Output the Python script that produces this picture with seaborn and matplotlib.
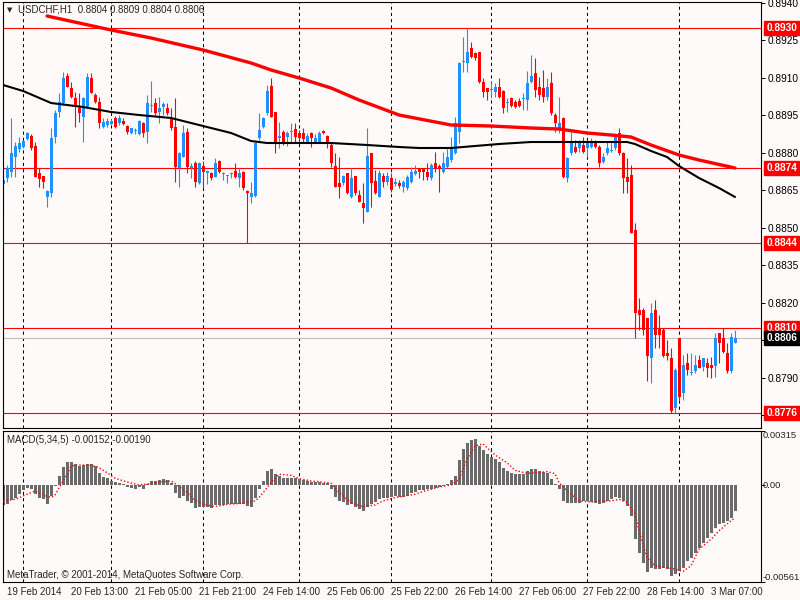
import numpy as np
import pandas as pd
import seaborn as sns
import matplotlib
matplotlib.use('Agg')
import matplotlib.pyplot as plt
import matplotlib.transforms as mtrans

sns.set_style('white')
plt.rcParams['font.family'] = ['Liberation Sans', 'DejaVu Sans']

BG = '#fffafa'
BULL = '#1e90ff'
BEAR = '#ff0000'

# ---------------------------------------------------------------
# USDCHF H1 candles
opens = [
    0.88676, 0.88700, 0.88724, 0.88784, 0.88816, 0.88824, 0.88856, 0.88868, 0.88828, 0.88720,
    0.88708, 0.88624, 0.88640, 0.88864, 0.88964, 0.89000, 0.89108, 0.89060, 0.89020, 0.88980,
    0.88944, 0.88984, 0.89100, 0.89032, 0.89004, 0.88904, 0.88912, 0.88916, 0.88940, 0.88920,
    0.88928, 0.88908, 0.88880, 0.88888, 0.88876, 0.88920, 0.88884, 0.88988, 0.89000, 0.88964,
    0.88984, 0.88980, 0.88940, 0.88904, 0.88740, 0.88784, 0.88884, 0.88740, 0.88760, 0.88680,
    0.88748, 0.88720, 0.88720, 0.88704, 0.88768, 0.88716, 0.88708, 0.88716, 0.88728, 0.88700,
    0.88724, 0.88648, 0.88624, 0.88628, 0.88860, 0.88904, 0.88960, 0.89068, 0.88964, 0.88860,
    0.88884, 0.88864, 0.88884, 0.88896, 0.88880, 0.88880, 0.88844, 0.88880, 0.88844, 0.88844,
    0.88888, 0.88868, 0.88832, 0.88748, 0.88680, 0.88680, 0.88720, 0.88624, 0.88708, 0.88632,
    0.88600, 0.88564, 0.88800, 0.88688, 0.88624, 0.88708, 0.88684, 0.88700, 0.88676, 0.88680,
    0.88664, 0.88660, 0.88684, 0.88716, 0.88740, 0.88740, 0.88724, 0.88700, 0.88760, 0.88748,
    0.88724, 0.88744, 0.88772, 0.88800, 0.88884, 0.89164, 0.89160, 0.89220, 0.89200, 0.89204,
    0.89084, 0.89060, 0.89052, 0.89044, 0.89064, 0.89048, 0.89000, 0.89020, 0.89004, 0.89008,
    0.89016, 0.89012, 0.89084, 0.89120, 0.89064, 0.89060, 0.89024, 0.89080, 0.88952, 0.88892,
    0.88940, 0.88700, 0.88800, 0.88824, 0.88820, 0.88832, 0.88820, 0.88824, 0.88844, 0.88824,
    0.88764, 0.88800, 0.88808, 0.88820, 0.88880, 0.88800, 0.88704, 0.88712, 0.88492, 0.88172,
    0.88172, 0.88140, 0.87980, 0.88172, 0.88100, 0.88092, 0.88000, 0.87980, 0.87780, 0.88060,
    0.87840, 0.87960, 0.87920, 0.87928, 0.87972, 0.87944, 0.87960, 0.87952, 0.87948, 0.88080,
    0.88060, 0.88000, 0.87928, 0.88040,
]
highs = [
    0.88724, 0.88752, 0.88940, 0.88844, 0.88864, 0.88852, 0.88884, 0.88876, 0.88844, 0.88740,
    0.88708, 0.88652, 0.88900, 0.88972, 0.89040, 0.89124, 0.89120, 0.89084, 0.89044, 0.89040,
    0.89024, 0.89120, 0.89120, 0.89040, 0.89024, 0.88940, 0.88940, 0.88936, 0.88948, 0.88952,
    0.88940, 0.88912, 0.88900, 0.88900, 0.88932, 0.88924, 0.89032, 0.89088, 0.89020, 0.89024,
    0.89004, 0.89000, 0.88980, 0.89020, 0.88804, 0.88912, 0.88900, 0.88760, 0.88768, 0.88764,
    0.88768, 0.88732, 0.88724, 0.88780, 0.88772, 0.88724, 0.88712, 0.88724, 0.88760, 0.88740,
    0.88728, 0.88652, 0.88684, 0.88844, 0.88960, 0.88944, 0.89072, 0.89100, 0.88964, 0.88924,
    0.88892, 0.88888, 0.88920, 0.88920, 0.88892, 0.88900, 0.88880, 0.88884, 0.88876, 0.88888,
    0.88892, 0.88872, 0.88840, 0.88800, 0.88784, 0.88712, 0.88720, 0.88740, 0.88708, 0.88652,
    0.88680, 0.88900, 0.88800, 0.88732, 0.88732, 0.88720, 0.88724, 0.88720, 0.88700, 0.88692,
    0.88692, 0.88712, 0.88744, 0.88752, 0.88740, 0.88740, 0.88760, 0.88760, 0.88804, 0.88756,
    0.88804, 0.88824, 0.88864, 0.88944, 0.89164, 0.89264, 0.89300, 0.89244, 0.89204, 0.89204,
    0.89100, 0.89060, 0.89084, 0.89080, 0.89100, 0.89052, 0.89020, 0.89024, 0.89012, 0.89020,
    0.89040, 0.89128, 0.89192, 0.89180, 0.89104, 0.89132, 0.89100, 0.89124, 0.88960, 0.89024,
    0.88944, 0.88784, 0.88884, 0.88852, 0.88852, 0.88864, 0.88852, 0.88860, 0.88852, 0.88832,
    0.88800, 0.88844, 0.88844, 0.88880, 0.88900, 0.88804, 0.88780, 0.88752, 0.88520, 0.88220,
    0.88180, 0.88140, 0.88200, 0.88212, 0.88152, 0.88100, 0.88052, 0.88020, 0.87940, 0.88060,
    0.87992, 0.88000, 0.88000, 0.87992, 0.87992, 0.87980, 0.87980, 0.87984, 0.88080, 0.88080,
    0.88100, 0.88040, 0.88080, 0.88090,
]
lows = [
    0.88552, 0.88684, 0.88704, 0.88704, 0.88804, 0.88820, 0.88852, 0.88812, 0.88704, 0.88664,
    0.88660, 0.88584, 0.88624, 0.88840, 0.88944, 0.88992, 0.89064, 0.89020, 0.88904, 0.88924,
    0.88844, 0.88980, 0.89040, 0.89000, 0.88900, 0.88900, 0.88904, 0.88912, 0.88900, 0.88912,
    0.88912, 0.88876, 0.88876, 0.88876, 0.88872, 0.88864, 0.88840, 0.88964, 0.88952, 0.88920,
    0.88952, 0.88952, 0.88892, 0.88684, 0.88664, 0.88784, 0.88720, 0.88700, 0.88664, 0.88676,
    0.88660, 0.88676, 0.88692, 0.88704, 0.88720, 0.88692, 0.88680, 0.88700, 0.88700, 0.88664,
    0.88652, 0.88440, 0.88600, 0.88624, 0.88852, 0.88900, 0.88952, 0.88944, 0.88800, 0.88820,
    0.88832, 0.88828, 0.88844, 0.88844, 0.88844, 0.88844, 0.88840, 0.88824, 0.88840, 0.88840,
    0.88876, 0.88820, 0.88744, 0.88664, 0.88620, 0.88672, 0.88636, 0.88620, 0.88632, 0.88604,
    0.88520, 0.88564, 0.88584, 0.88636, 0.88624, 0.88664, 0.88672, 0.88644, 0.88668, 0.88660,
    0.88644, 0.88652, 0.88680, 0.88712, 0.88700, 0.88692, 0.88692, 0.88692, 0.88724, 0.88644,
    0.88720, 0.88740, 0.88764, 0.88796, 0.88840, 0.89124, 0.89124, 0.89180, 0.89172, 0.89080,
    0.89024, 0.89012, 0.89020, 0.89024, 0.89020, 0.88960, 0.88964, 0.88984, 0.88980, 0.88984,
    0.88972, 0.88972, 0.89080, 0.89024, 0.89012, 0.89004, 0.89012, 0.88952, 0.88884, 0.88880,
    0.88700, 0.88684, 0.88792, 0.88800, 0.88804, 0.88800, 0.88784, 0.88820, 0.88820, 0.88744,
    0.88760, 0.88792, 0.88804, 0.88812, 0.88792, 0.88640, 0.88640, 0.88480, 0.88060, 0.88092,
    0.88072, 0.87888, 0.87880, 0.88020, 0.88020, 0.87984, 0.87972, 0.87760, 0.87760, 0.87812,
    0.87812, 0.87912, 0.87912, 0.87920, 0.87940, 0.87928, 0.87904, 0.87900, 0.87904, 0.87960,
    0.88000, 0.87920, 0.87920, 0.88040,
]
closes = [
    0.88692, 0.88740, 0.88800, 0.88828, 0.88840, 0.88848, 0.88880, 0.88820, 0.88704, 0.88696,
    0.88684, 0.88648, 0.88860, 0.88960, 0.89004, 0.89100, 0.89064, 0.89024, 0.88984, 0.88960,
    0.89020, 0.89104, 0.89040, 0.89004, 0.88920, 0.88924, 0.88928, 0.88928, 0.88904, 0.88940,
    0.88916, 0.88884, 0.88900, 0.88892, 0.88928, 0.88880, 0.89000, 0.88992, 0.88960, 0.88980,
    0.88996, 0.88960, 0.88900, 0.88744, 0.88800, 0.88880, 0.88744, 0.88748, 0.88684, 0.88760,
    0.88724, 0.88728, 0.88700, 0.88760, 0.88724, 0.88720, 0.88712, 0.88720, 0.88704, 0.88720,
    0.88660, 0.88640, 0.88640, 0.88840, 0.88892, 0.88940, 0.89048, 0.88944, 0.88840, 0.88868,
    0.88844, 0.88880, 0.88888, 0.88864, 0.88860, 0.88856, 0.88868, 0.88860, 0.88860, 0.88880,
    0.88880, 0.88840, 0.88760, 0.88664, 0.88664, 0.88708, 0.88640, 0.88700, 0.88640, 0.88604,
    0.88580, 0.88788, 0.88680, 0.88640, 0.88720, 0.88684, 0.88708, 0.88652, 0.88684, 0.88668,
    0.88684, 0.88704, 0.88724, 0.88728, 0.88724, 0.88724, 0.88704, 0.88752, 0.88740, 0.88740,
    0.88760, 0.88784, 0.88824, 0.88920, 0.89160, 0.89168, 0.89204, 0.89184, 0.89180, 0.89084,
    0.89044, 0.89044, 0.89056, 0.89064, 0.89024, 0.88980, 0.89004, 0.88988, 0.88984, 0.88988,
    0.89020, 0.89080, 0.89108, 0.89052, 0.89032, 0.89024, 0.89064, 0.88960, 0.88920, 0.88920,
    0.88704, 0.88780, 0.88844, 0.88804, 0.88840, 0.88804, 0.88844, 0.88840, 0.88824, 0.88760,
    0.88784, 0.88820, 0.88812, 0.88864, 0.88800, 0.88700, 0.88684, 0.88480, 0.88160, 0.88152,
    0.88092, 0.87988, 0.88160, 0.88072, 0.88072, 0.87988, 0.87988, 0.87768, 0.87932, 0.87824,
    0.87952, 0.87932, 0.87924, 0.87952, 0.87940, 0.87980, 0.87940, 0.87940, 0.88060, 0.88040,
    0.88004, 0.87928, 0.88064, 0.88060,
]

# moving averages (sampled along the drawn lines)
ma_slow_idx = [11, 19, 27, 37, 50, 62, 67, 74, 82, 89, 99, 112, 122, 132, 139, 146, 152, 157, 162, 169, 174, 183]
ma_slow = [0.89348, 0.89320, 0.89292, 0.89260, 0.89212, 0.89160, 0.89132, 0.89100, 0.89060, 0.89012, 0.88952,
           0.88912, 0.88908, 0.88900, 0.88896, 0.88880, 0.88872, 0.88864, 0.88832, 0.88792, 0.88772, 0.88740]
ma_fast_idx = [0, 5, 12, 20, 27, 34, 42, 50, 57, 62, 66, 74, 82, 91, 99, 104, 112, 118, 124, 132, 138, 149,
               156, 158, 162, 166, 169, 174, 179, 183]
ma_fast = [0.89072, 0.89048, 0.89000, 0.88984, 0.88964, 0.88952, 0.88940, 0.88908, 0.88880, 0.88848, 0.88840,
           0.88840, 0.88840, 0.88832, 0.88824, 0.88820, 0.88820, 0.88828, 0.88836, 0.88844, 0.88844, 0.88844,
           0.88844, 0.88836, 0.88808, 0.88784, 0.88748, 0.88700, 0.88660, 0.88624]

# MACD(5,34,5) histogram and signal
macd = [
    -0.00116, -0.00110, -0.00087, -0.00071, -0.00048, -0.00029, -0.00014, -0.00023, -0.00048, -0.00071,
    -0.00081, -0.00106, -0.00062, -0.00004, 0.00054, 0.00106, 0.00135, 0.00135, 0.00122, 0.00112,
    0.00116, 0.00125, 0.00122, 0.00112, 0.00073, 0.00048, 0.00041, 0.00025, 0.00019, 0.00015,
    0.00010, -0.00010, -0.00014, -0.00019, -0.00010, -0.00019, 0.00010, 0.00025, 0.00025, 0.00031,
    0.00035, 0.00029, 0.00015, -0.00046, -0.00071, -0.00062, -0.00091, -0.00100, -0.00129, -0.00125,
    -0.00125, -0.00125, -0.00129, -0.00116, -0.00116, -0.00114, -0.00110, -0.00110, -0.00110, -0.00106,
    -0.00110, -0.00120, -0.00124, -0.00075, -0.00023, 0.00025, 0.00083, 0.00093, 0.00068, 0.00054,
    0.00044, 0.00041, 0.00041, 0.00041, 0.00035, 0.00029, 0.00025, 0.00021, 0.00019, 0.00019,
    0.00015, 0.00015, -0.00023, -0.00068, -0.00091, -0.00097, -0.00116, -0.00110, -0.00125, -0.00139,
    -0.00149, -0.00125, -0.00106, -0.00097, -0.00081, -0.00071, -0.00071, -0.00068, -0.00062, -0.00068,
    -0.00068, -0.00062, -0.00042, -0.00037, -0.00029, -0.00027, -0.00023, -0.00019, -0.00014, -0.00010,
    -0.00004, 0.00010, 0.00029, 0.00054, 0.00145, 0.00208, 0.00243, 0.00261, 0.00266, 0.00228,
    0.00203, 0.00179, 0.00164, 0.00154, 0.00137, 0.00098, 0.00083, 0.00073, 0.00068, 0.00064,
    0.00064, 0.00083, 0.00093, 0.00093, 0.00083, 0.00079, 0.00069, 0.00035, 0.00006, -0.00019,
    -0.00091, -0.00100, -0.00104, -0.00100, -0.00100, -0.00091, -0.00091, -0.00095, -0.00100, -0.00106,
    -0.00100, -0.00091, -0.00081, -0.00068, -0.00071, -0.00091, -0.00120, -0.00178, -0.00313, -0.00390,
    -0.00448, -0.00502, -0.00477, -0.00483, -0.00483, -0.00477, -0.00486, -0.00529, -0.00515, -0.00500,
    -0.00477, -0.00442, -0.00419, -0.00390, -0.00361, -0.00332, -0.00303, -0.00274, -0.00249, -0.00222,
    -0.00216, -0.00207, -0.00191, -0.00152,
]
signal_idx = [0, 3, 5, 8, 10, 12, 13, 14, 16, 17, 19, 22, 24, 26, 28, 31, 34, 37, 39, 42, 43, 46, 48, 50,
              53, 56, 59, 63, 64, 66, 68, 69, 72, 74, 77, 79, 82, 84, 87, 90, 93, 95, 98, 99, 103, 106,
              109, 112, 114, 116, 118, 120, 121, 123, 126, 128, 131, 133, 136, 138, 139, 142, 144, 147,
              149, 152, 154, 156, 158, 159, 161, 163, 166, 168, 170, 172, 174, 177, 179, 182, 183]
signal = [-0.00091, -0.00081, -0.00062, -0.00033, -0.00056, -0.00071, -0.00056, -0.00014, 0.00064, 0.00112,
          0.00118, 0.00116, 0.00102, 0.00073, 0.00041, 0.00019, 0.00002, 0.00010, 0.00019, 0.00025, 0.00010,
          -0.00042, -0.00087, -0.00110, -0.00124, -0.00110, -0.00106, -0.00091, -0.00071, -0.00014, 0.00044,
          0.00064, 0.00058, 0.00039, 0.00025, 0.00021, 0.00012, -0.00042, -0.00100, -0.00125, -0.00114,
          -0.00091, -0.00071, -0.00068, -0.00052, -0.00029, -0.00010, 0.00002, 0.00035, 0.00151, 0.00228,
          0.00241, 0.00218, 0.00176, 0.00131, 0.00087, 0.00069, 0.00073, 0.00079, 0.00068, 0.00015,
          -0.00052, -0.00091, -0.00097, -0.00091, -0.00091, -0.00081, -0.00100, -0.00168, -0.00264,
          -0.00419, -0.00467, -0.00477, -0.00486, -0.00500, -0.00467, -0.00371, -0.00313, -0.00264,
          -0.00205, -0.00190]

levels = [0.8930, 0.8874, 0.8844, 0.8810, 0.8776]
bid = 0.8806
price_ticks = [0.8940, 0.8925, 0.8910, 0.8895, 0.8880, 0.8865, 0.8850, 0.8835, 0.8820, 0.8805, 0.8790, 0.8775]
hidden_ticks = [0.8805, 0.8775]   # covered by the level boxes
macd_ticks = [0.00315, 0.0, -0.00561]
macd_tick_labels = ['0.00315', '0.00', '-0.00561']
day_lines = [5, 27, 50, 74, 97, 122, 146, 169]
date_pos = [0, 16, 32, 48, 64, 80, 96, 112, 128, 144, 160, 176]
date_labels = ['19 Feb 2014', '20 Feb 13:00', '21 Feb 05:00', '21 Feb 21:00', '24 Feb 14:00', '25 Feb 06:00',
               '25 Feb 22:00', '26 Feb 14:00', '27 Feb 06:00', '27 Feb 22:00', '28 Feb 14:00', '3 Mar 07:00']

# ---------------------------------------------------------------
df = pd.DataFrame({'open': opens, 'high': highs, 'low': lows, 'close': closes})
df['x'] = np.arange(len(df))
df['col'] = np.where(df['close'] >= df['open'], BULL, BEAR)
body = np.maximum((df['close'] - df['open']).abs(), 0.00004)
bottom = np.minimum(df['open'], df['close'])

fig = plt.figure(figsize=(8, 6), dpi=100, facecolor=BG)
ax = fig.add_axes([2.7 / 800, 1 - 428 / 600, 758.3 / 800, 426 / 600])
axm = fig.add_axes([2.7 / 800, 1 - 582 / 600, 758.3 / 800, 151 / 600])

for a in (ax, axm):
    a.set_facecolor(BG)
    a.set_xlim(-0.1, 189.5)
    for s in a.spines.values():
        s.set_color('black')
        s.set_linewidth(0.8)
    for d in day_lines:
        a.axvline(d, color='black', lw=0.75, ls=(0, (3, 3)), zorder=1)

# main price panel
for lvl in levels:
    ax.axhline(lvl, color='red', lw=0.8, zorder=1.5)
ax.axhline(bid, color='#c0c0c0', lw=0.8, zorder=1.5)

ax.vlines(df['x'], df['low'], df['high'], colors=df['col'], lw=0.8, zorder=2)
ax.bar(df['x'], body, bottom=bottom, width=0.75, color=df['col'], lw=0, zorder=2.1)

sns.lineplot(x=ma_slow_idx, y=ma_slow, ax=ax, color='red', lw=2.4, estimator=None, zorder=3)
sns.lineplot(x=ma_fast_idx, y=ma_fast, ax=ax, color='black', lw=1.5, estimator=None, zorder=3)

ax.set_ylim(0.87700, 0.89404)
ax.set_xticks([])
ax.yaxis.tick_right()
ax.set_yticks(price_ticks)
ax.set_yticklabels(['' if t in hidden_ticks else '%.4f' % t for t in price_ticks], fontsize=7.3)
ax.tick_params(axis='y', direction='out', length=3, width=0.7, pad=2, colors='black')
ax.set_xlabel('')
ax.set_ylabel('')

trans = mtrans.blended_transform_factory(ax.transAxes, ax.transData)
for lvl in levels:
    ax.text(1.007, lvl, '%.4f' % lvl, transform=trans, color='white', fontsize=7.3, fontweight='bold',
            ha='left', va='center', bbox=dict(boxstyle='square,pad=0.22', fc='red', ec='red'),
            zorder=10, clip_on=False)
ax.text(1.007, bid, '%.4f' % bid, transform=trans, color='white', fontsize=7.3, fontweight='bold',
        ha='left', va='center', bbox=dict(boxstyle='square,pad=0.22', fc='black', ec='black'),
        zorder=10, clip_on=False)

# MACD panel
axm.bar(df['x'], macd, width=0.75, color='#6a6a6a', lw=0, zorder=2)
sns.lineplot(x=signal_idx, y=signal, ax=axm, color='red', lw=1.0, linestyle=(0, (1, 1.5)),
             estimator=None, zorder=3)
axm.set_ylim(-0.00561, 0.00315)
axm.yaxis.tick_right()
axm.set_yticks(macd_ticks)
axm.set_yticklabels([])
axm.tick_params(axis='y', direction='out', length=3, width=0.7, colors='black')
axm.set_xticks(date_pos)
axm.set_xticklabels([])
axm.tick_params(axis='x', direction='out', length=4, width=0.7, colors='black')
axm.set_xlabel('')
axm.set_ylabel('')

ytr = mtrans.blended_transform_factory(axm.transAxes, axm.transData)
vas = ['top', 'center', 'bottom']
for t, lab, va in zip(macd_ticks, macd_tick_labels, vas):
    axm.text(1.002, t, lab, transform=ytr, fontsize=6.8, ha='left', va=va, clip_on=False)

xtr = mtrans.blended_transform_factory(axm.transData, axm.transAxes)
for p, lab in zip(date_pos, date_labels):
    axm.text(p + 1, -0.064, lab, transform=xtr, fontsize=7.0, ha='left', va='center', clip_on=False)

# texts
fig.text(10 / 800, 1 - 10 / 600, '\u25bc', fontsize=5, ha='center', va='center', family='DejaVu Sans')
fig.text(18 / 800, 1 - 10 / 600, 'USDCHF,H1  0.8804 0.8809 0.8804 0.8806', fontsize=7.0, va='center')
fig.text(7 / 800, 1 - 440 / 600, 'MACD(5,34,5) -0.00152 -0.00190', fontsize=7.0, va='center')
fig.text(7 / 800, 1 - 575 / 600, 'MetaTrader, \u00a9 2001-2014, MetaQuotes Software Corp.', fontsize=7.0,
         va='center')

fig.savefig('out.png', dpi=100, facecolor=BG)
